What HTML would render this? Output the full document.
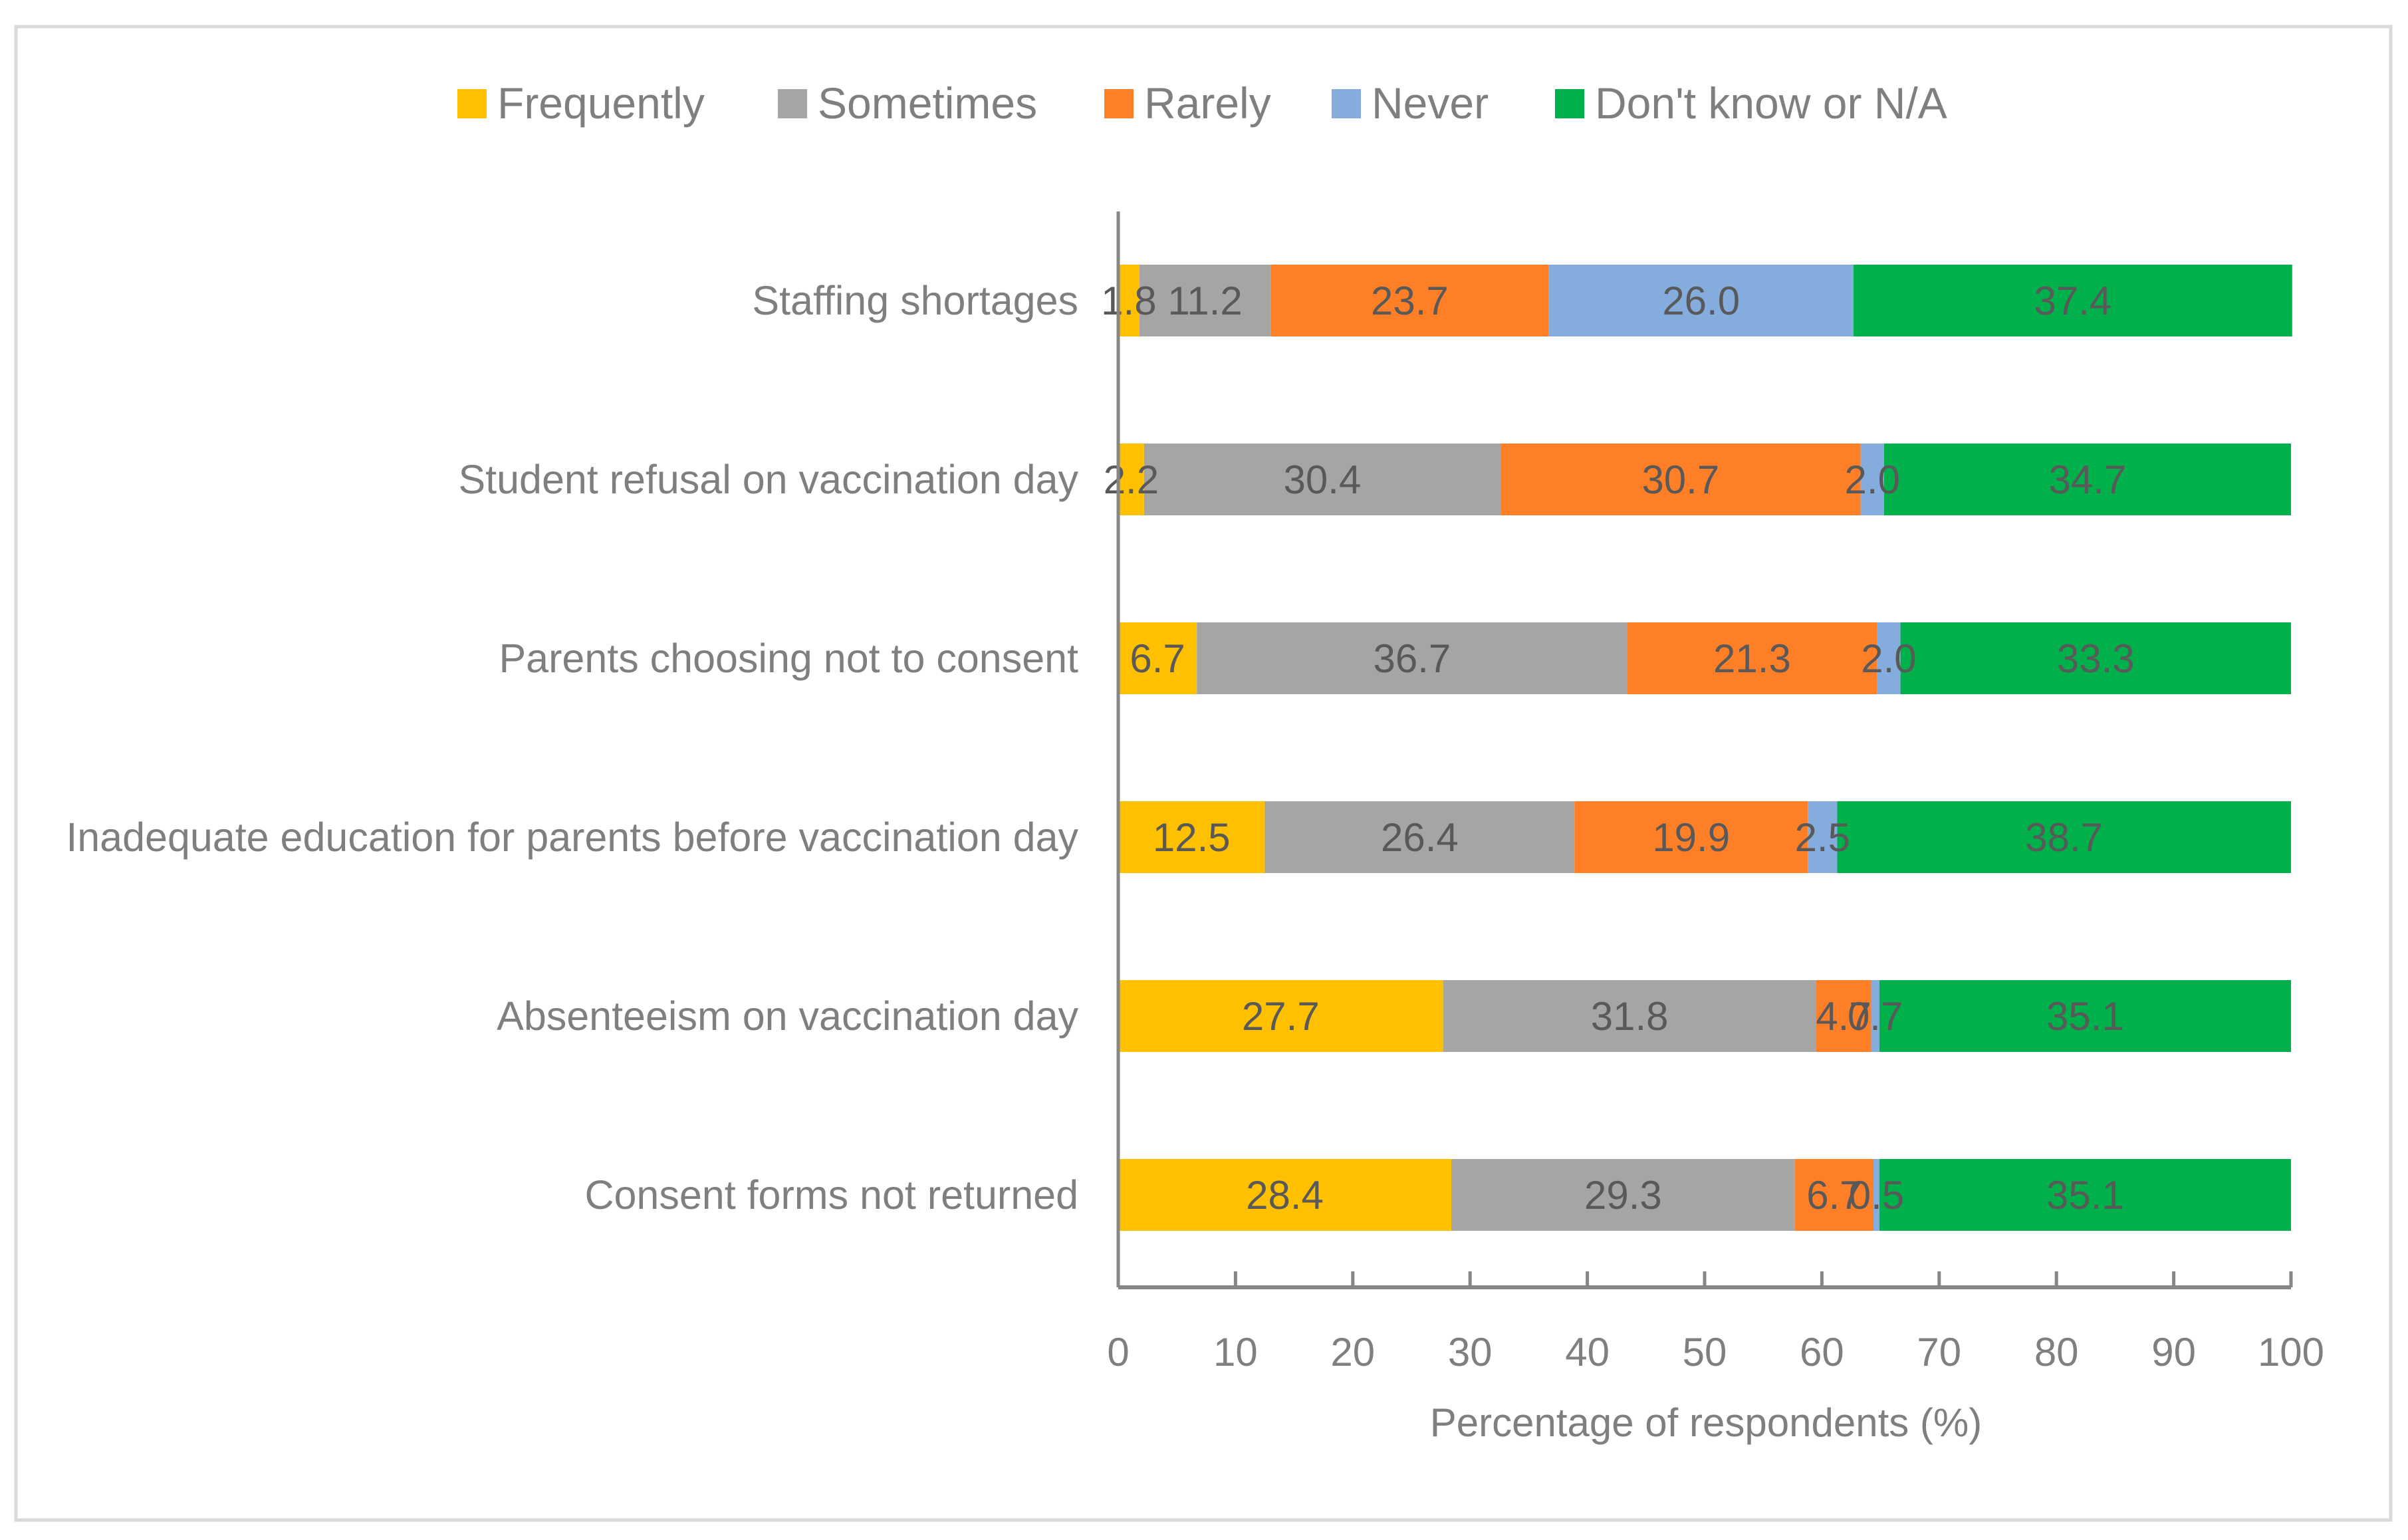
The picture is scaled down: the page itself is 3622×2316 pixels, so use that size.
<!DOCTYPE html>
<html><head><meta charset="utf-8">
<style>
html,body{margin:0;padding:0;background:#fff;}
svg{display:block;font-family:"Liberation Sans",sans-serif;}
</style></head>
<body>
<svg id="chart" width="3622" height="2316" viewBox="0 0 3622 2316" xmlns="http://www.w3.org/2000/svg">
<rect x="24" y="40" width="3572" height="2246" fill="#fff" stroke="#d9d9d9" stroke-width="5"/>
<g id="legend"></g>
<g id="bars"></g>
<g id="labels"></g>
<g id="axes"></g>
<text x="2566" y="2160" text-anchor="middle" font-size="60" fill="#7f7f7f">Percentage of respondents (%)</text>
</svg>
<script>
const categories = ["Staffing shortages","Student refusal on vaccination day","Parents choosing not to consent","Inadequate education for parents before vaccination day","Absenteeism on vaccination day","Consent forms not returned"];
const seriesNames = ["Frequently","Sometimes","Rarely","Never","Don't know or N/A"];
const frequently = [1.8,2.2,6.7,12.5,27.7,28.4];
const sometimes = [11.2,30.4,36.7,26.4,31.8,29.3];
const rarely = [23.7,30.7,21.3,19.9,4.7,6.7];
const never = [26.0,2.0,2.0,2.5,0.7,0.5];
const dontKnow = [37.4,34.7,33.3,38.7,35.1,35.1];
const xTicks = [0,10,20,30,40,50,60,70,80,90,100];
const series = [frequently,sometimes,rarely,never,dontKnow];
const colors = ["#ffc000","#a5a5a5","#ff7f27","#84acdc","#00b04a"];
const NS="http://www.w3.org/2000/svg";
const x0=1682,x1=3446,yTop=452,step=269,barH=108,axisY=1936;
const xs=v=>x0+(x1-x0)*v/100;
const ys=i=>yTop+step*i;
function mk(tag,attrs,parent){const e=document.createElementNS(NS,tag);for(const k in attrs)e.setAttribute(k,attrs[k]);parent.appendChild(e);return e;}
const bars=document.getElementById('bars'),labels=document.getElementById('labels'),axes=document.getElementById('axes'),legend=document.getElementById('legend');
categories.forEach((c,i)=>{
  let acc=0;
  series.forEach((s,j)=>{
    const v=s[i];
    const r=mk('rect',{x:xs(acc),y:ys(i)-barH/2,width:xs(acc+v)-xs(acc),height:barH,fill:colors[j]},bars);
    
    
    const t=mk('text',{x:(xs(acc)+xs(acc+v))/2,y:ys(i)+21,'text-anchor':'middle','font-size':'60',fill:'#595959'},labels);
    t.textContent=v.toFixed(1);
    
    
    acc+=v;
  });
  const l=mk('text',{x:1622,y:ys(i)+21,'text-anchor':'end','font-size':'61',fill:'#7f7f7f'},axes);
  l.textContent=c;
  
  
});
const ya=mk('line',{x1:x0,y1:318,x2:x0,y2:axisY,stroke:'#868686','stroke-width':5},axes);


const xa=mk('line',{x1:x0,y1:axisY,x2:x1,y2:axisY,stroke:'#868686','stroke-width':6},axes);


xTicks.forEach(v=>{
  const tk=mk('line',{x1:xs(v),y1:axisY-24,x2:xs(v),y2:axisY,stroke:'#868686','stroke-width':5},axes);
  
  
  const tl=mk('text',{x:xs(v),y:2054,'text-anchor':'middle','font-size':'60',fill:'#7f7f7f'},axes);
  tl.textContent=v;
  
  
});
const legX=[688,1170,1661,2003,2339];
seriesNames.forEach((n,j)=>{
  const sq=mk('rect',{x:legX[j],y:134,width:44,height:44,fill:colors[j]},legend);
  
  
  const t=mk('text',{x:legX[j]+60,y:178,'font-size':'66',fill:'#7f7f7f'},legend);
  t.textContent=n;
  
  
});
</script>
</body></html>
